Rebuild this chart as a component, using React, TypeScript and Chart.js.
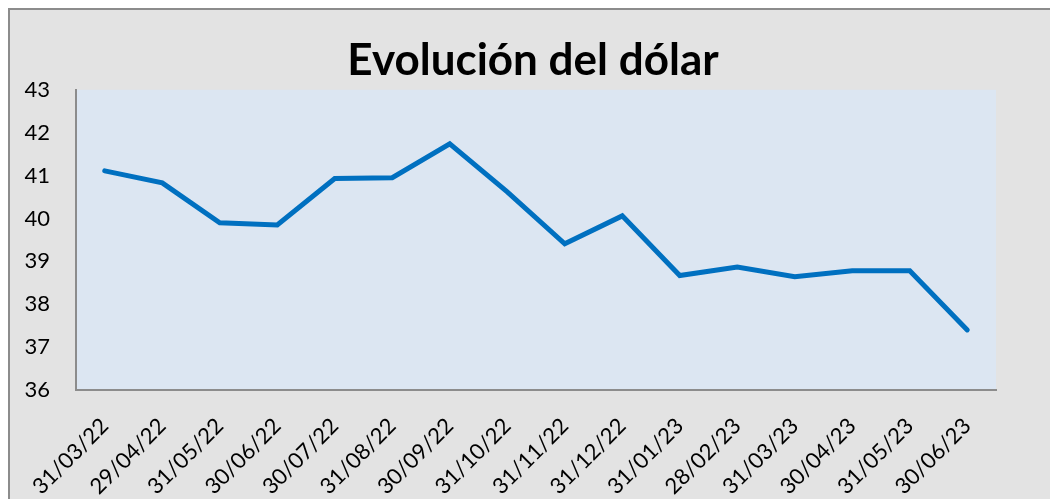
import React, { useEffect, useRef } from "react";
import { Chart, registerables } from "chart.js";

Chart.register(...registerables);

const categories = [
  "31/03/22", "29/04/22", "31/05/22", "30/06/22", "30/07/22", "31/08/22",
  "30/09/22", "31/10/22", "31/11/22", "31/12/22", "31/01/23", "28/02/23",
  "31/03/23", "30/04/23", "31/05/23", "30/06/23",
];
const dollarValues = [
  41.11, 40.83, 39.9, 39.85, 40.93, 40.95, 41.74, 40.62, 39.41, 40.06,
  38.67, 38.87, 38.64, 38.78, 38.78, 37.4,
];
const yTicks = [36, 37, 38, 39, 40, 41, 42, 43];
const titleText = "Evolución del dólar";

const plotBg = {
  id: "plotBg",
  beforeDraw(chart: any) {
    const { ctx, chartArea } = chart;
    if (!chartArea) return;
    ctx.save();
    ctx.fillStyle = "#dce6f2";
    ctx.fillRect(chartArea.left, chartArea.top, chartArea.right - chartArea.left, chartArea.bottom - chartArea.top);
    ctx.restore();
  },
};

export default function App() {
  const ref = useRef<HTMLCanvasElement | null>(null);
  useEffect(() => {
    document.body.style.overflow = "hidden";
    if (!ref.current) return;
    const chart = new Chart(ref.current, {
      type: "line",
      data: {
        labels: categories,
        datasets: [
          {
            data: dollarValues,
            borderColor: "#0070c0",
            borderWidth: 5,
            pointRadius: 0,
            tension: 0,
            borderCapStyle: "round",
            borderJoinStyle: "miter",
          },
        ],
      },
      options: {
        animation: false,
        responsive: false,
        maintainAspectRatio: false,
        layout: { padding: { left: 6, right: 0, top: 0, bottom: 0 } },
        plugins: {
          legend: { display: false },
          tooltip: { enabled: false },
          title: {
            display: true,
            text: titleText,
            color: "#000",
            font: { family: "Lato", size: 44, weight: "bold" },
            padding: { top: 24, bottom: 3 },
          },
        },
        scales: {
          x: {
            type: "category",
            offset: true,
            grid: { display: false, drawTicks: false },
            border: { display: true, color: "#8c8c8c", width: 2 },
            ticks: {
              color: "#000",
              font: { family: "Lato", size: 22 },
              minRotation: 45,
              maxRotation: 45,
              padding: 23,
              autoSkip: false,
            },
            afterFit(scale: any) {
              scale.height = 109;
            },
          },
          y: {
            min: 36,
            max: 43,
            afterBuildTicks(scale: any) {
              scale.ticks = yTicks.map((v) => ({ value: v }));
            },
            grid: { display: false, drawTicks: false },
            border: { display: true, color: "#8c8c8c", width: 2 },
            ticks: {
              color: "#000",
              font: { family: "Lato", size: 22 },
              padding: 26,
            },
            afterFit(scale: any) {
              scale.width = 60;
            },
          },
          yRight: {
            type: "linear",
            position: "right",
            display: true,
            grid: { display: false, drawTicks: false },
            border: { display: false },
            ticks: { display: false },
            afterFit(scale: any) {
              scale.width = 54;
            },
          },
        },
      },
      plugins: [plotBg],
    });
    return () => chart.destroy();
  }, []);

  return (
    <div
      style={{
        position: "fixed",
        left: 8,
        top: 8,
        right: 0,
        bottom: 0,
        overflow: "hidden",
      }}
    >
      <div
        style={{
          width: 1060,
          height: 520,
          boxSizing: "border-box",
          border: "2px solid #8c8c8c",
          background: "#e3e3e3",
        }}
      >
        <canvas ref={ref} width={1040} height={489} style={{ display: "block" }} />
      </div>
    </div>
  );
}
